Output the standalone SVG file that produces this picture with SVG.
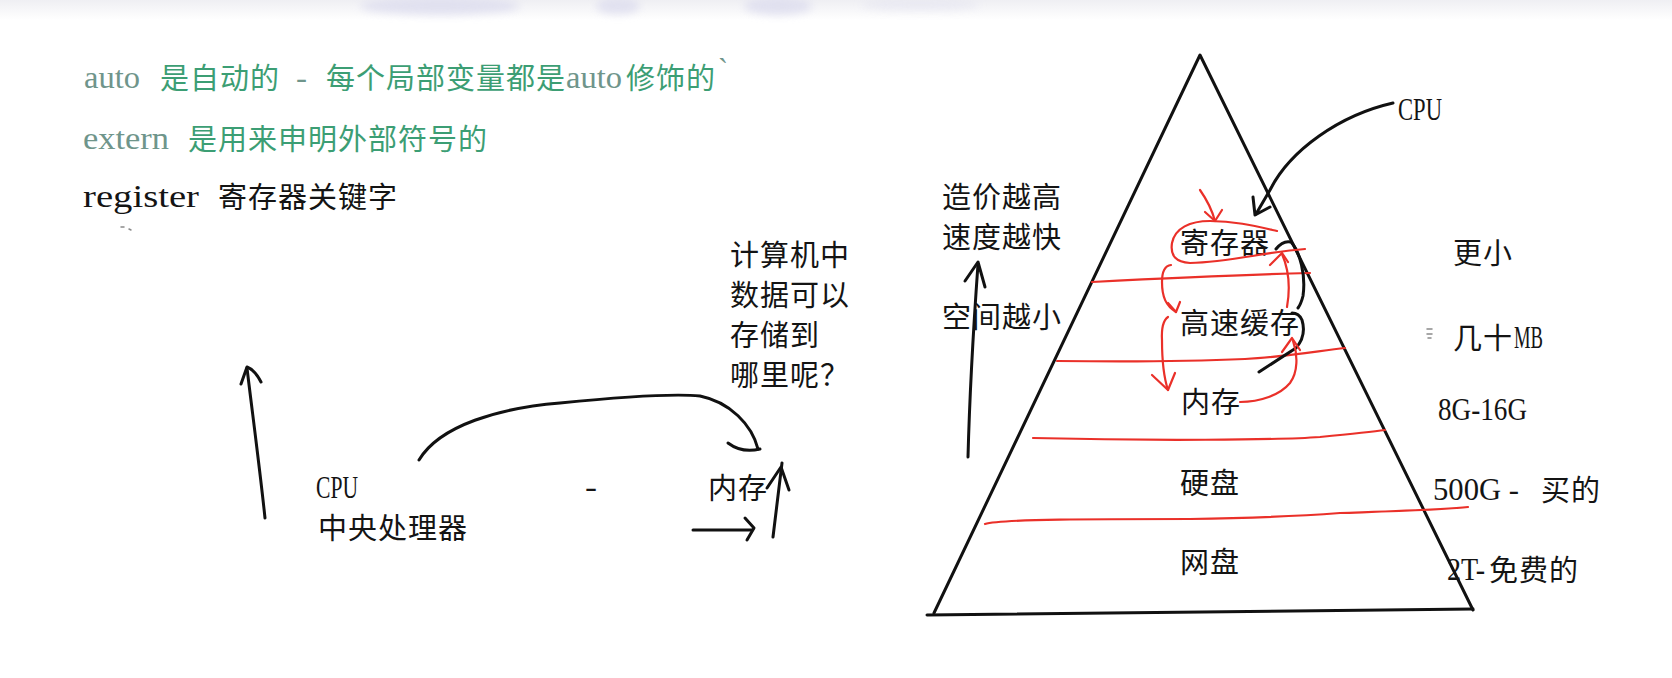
<svg xmlns="http://www.w3.org/2000/svg" width="1672" height="678" viewBox="0 0 1672 678">
<style>
.cj{font-family:"Noto Sans CJK SC","Noto Sans",sans-serif;font-size:29px;letter-spacing:1px;fill:#141414}
.la{font-family:"Liberation Serif",serif;font-size:32px;fill:#141414}
.g{fill:#3c9e74}
.gl{fill:#6f958b}
.bk{stroke:#111;stroke-width:3;fill:none;stroke-linecap:round;stroke-linejoin:round}
.rd{stroke:#ea3029;stroke-width:2.2;fill:none;stroke-linecap:round;stroke-linejoin:round}
.spk{stroke:#8a8a8a;stroke-width:1.5;fill:none;stroke-linecap:round}
</style>
<defs>
<linearGradient id="topfade" x1="0" y1="0" x2="0" y2="1">
<stop offset="0" stop-color="#efeff3"/>
<stop offset="1" stop-color="#ffffff"/>
</linearGradient>
<filter id="blur" x="-50%" y="-50%" width="200%" height="200%"><feGaussianBlur stdDeviation="4"/></filter>
</defs>
<rect width="1672" height="678" fill="#ffffff"/>
<g id="top-strip">
<rect x="0" y="0" width="1672" height="20" fill="url(#topfade)"/>
<g filter="url(#blur)" fill="#dcdcee" opacity="0.8">
<ellipse cx="440" cy="6" rx="80" ry="9"/>
<ellipse cx="618" cy="6" rx="22" ry="8"/>
<ellipse cx="778" cy="6" rx="34" ry="9"/>
<ellipse cx="920" cy="5" rx="60" ry="6" opacity="0.5"/>
</g>
</g>

<g id="text-auto">
<text class="la gl" x="84" y="88" textLength="56" lengthAdjust="spacingAndGlyphs">auto</text>
<text class="cj g" x="160" y="89">是自动的</text>
<text class="la gl" x="296" y="88" textLength="11" lengthAdjust="spacingAndGlyphs">-</text>
<text class="cj g" x="326" y="89">每个局部变量都是</text>
<text class="la gl" x="566" y="88" textLength="56" lengthAdjust="spacingAndGlyphs">auto</text>
<text class="cj g" x="626" y="89">修饰的</text>
<text class="la gl" x="718" y="80" textLength="10" lengthAdjust="spacingAndGlyphs">`</text>
</g>
<g id="text-extern">
<text class="la gl" x="83" y="149" textLength="86" lengthAdjust="spacingAndGlyphs">extern</text>
<text class="cj g" x="188" y="150">是用来申明外部符号的</text>
</g>
<g id="text-register">
<text class="la" x="83" y="207" textLength="116" lengthAdjust="spacingAndGlyphs">register</text>
<text class="cj" x="218" y="208">寄存器关键字</text>
<path class="spk" d="M121,227 L124,227 M129,229 L131,230"/>
</g>

<g id="node-cpu">
<text class="la" x="316" y="498" textLength="42" lengthAdjust="spacingAndGlyphs">CPU</text>
<text class="cj" x="318" y="539">中央处理器</text>
</g>
<g id="node-dash">
<text class="la" x="585" y="497" textLength="12" lengthAdjust="spacingAndGlyphs">-</text>
</g>
<g id="node-memory">
<text class="cj" x="708" y="499">内存</text>
</g>
<g id="node-question">
<text class="cj" x="730" y="266">计算机中</text>
<text class="cj" x="730" y="306">数据可以</text>
<text class="cj" x="730" y="346">存储到</text>
<text class="cj" x="730" y="386">哪里呢？</text>
</g>

<g id="node-pyramid">
<path class="bk" d="M934,613 L1200,55 L1473,610"/>
<path class="bk" d="M927,615 L1473,609"/>
<path class="rd" d="M1092,282 C1150,279 1230,275 1310,273"/>
<path class="rd" d="M1057,361 C1130,362 1200,361 1245,359 C1285,357 1318,351 1345,348"/>
<path class="rd" d="M1033,438 C1150,441 1280,440 1320,437 C1350,434 1370,432 1385,430"/>
<path class="rd" d="M985,524 C1000,519 1100,519 1190,519 C1260,518 1300,516 1340,513 C1400,511 1440,510 1468,507"/>
<text class="cj" x="1180" y="254">寄存器</text>
<text class="cj" x="1180" y="334">高速缓存</text>
<text class="cj" x="1181" y="413">内存</text>
<text class="cj" x="1180" y="494">硬盘</text>
<text class="cj" x="1180" y="573">网盘</text>
</g>

<g id="node-cost">
<text class="cj" x="942" y="208">造价越高</text>
<text class="cj" x="942" y="248">速度越快</text>
<text class="cj" x="942" y="328">空间越小</text>
</g>

<g id="node-right-labels">
<text class="la" x="1398" y="120" textLength="44" lengthAdjust="spacingAndGlyphs">CPU</text>
<text class="cj" x="1453" y="264">更小</text>
<path class="spk" d="M1427,329 L1432,329 M1427,334 L1432,334 M1428,338 L1431,338"/>
<text class="cj" x="1453" y="349">几十</text>
<text class="la" x="1514" y="348" textLength="29" lengthAdjust="spacingAndGlyphs">MB</text>
<text class="la" x="1438" y="420" textLength="89" lengthAdjust="spacingAndGlyphs">8G-16G</text>
<text class="la" x="1433" y="500" textLength="86" lengthAdjust="spacingAndGlyphs">500G -</text>
<text class="cj" x="1541" y="501">买的</text>
<text class="la" x="1447" y="580" textLength="38" lengthAdjust="spacingAndGlyphs">2T-</text>
<text class="cj" x="1489" y="581">免费的</text>
</g>

<g id="connectors">
<path class="bk" d="M265,518 C260,470 252,410 247,368"/>
<path class="bk" d="M241,384 L247,367 Q255,370 261,382"/>
<path class="bk" d="M419,460 C440,425 500,408 560,403 C620,397 670,393 700,396 C730,402 752,425 758,449"/>
<path class="bk" d="M728,443 C740,452 752,451 760,449"/>
<path class="bk" d="M773,537 L782,463"/>
<path class="bk" d="M767,488 L781,467 L789,490"/>
<path class="bk" d="M693,530 L752,530"/>
<path class="bk" d="M745,518 L754,528 L747,540"/>
<path class="bk" d="M968,457 C970,380 974,320 978,264"/>
<path class="bk" d="M965,281 L978,262 L985,287"/>
<path class="bk" d="M1393,103 C1340,115 1290,150 1270,190 L1256,214"/>
<path class="bk" d="M1253,197 L1255,215 L1270,207"/>
<path class="bk" d="M1276,249 Q1283,240 1291,242 C1300,252 1306,275 1303,296 Q1301,304 1298,308"/>
<path class="bk" d="M1292,313 Q1299,313 1302,320 C1305,330 1303,340 1296,348 L1259,372"/>
<path class="rd" d="M1200,190 C1207,200 1212,210 1215,221"/>
<path class="rd" d="M1205,212 L1215,221 L1222,210"/>
<path class="rd" d="M1277,231 C1255,226 1235,221 1210,221 C1190,221 1175,228 1172,243 C1170,256 1176,262 1190,263 C1230,262 1265,252 1305,249"/>
<path class="rd" d="M1171,265 Q1162,266 1162,282 C1162,297 1166,306 1176,312"/>
<path class="rd" d="M1168,303 L1176,312 L1180,302"/>
<path class="rd" d="M1168,317 Q1161,322 1162,340 C1162,360 1164,378 1168,390"/>
<path class="rd" d="M1152,375 L1168,390 L1175,373"/>
<path class="rd" d="M1240,402 C1260,402 1280,395 1290,383 C1298,372 1298,355 1293,341"/>
<path class="rd" d="M1282,352 L1292,338 L1300,350"/>
<path class="rd" d="M1287,307 C1290,290 1289,270 1282,254"/>
<path class="rd" d="M1270,265 L1282,253 L1288,262"/>
</g>
</svg>
